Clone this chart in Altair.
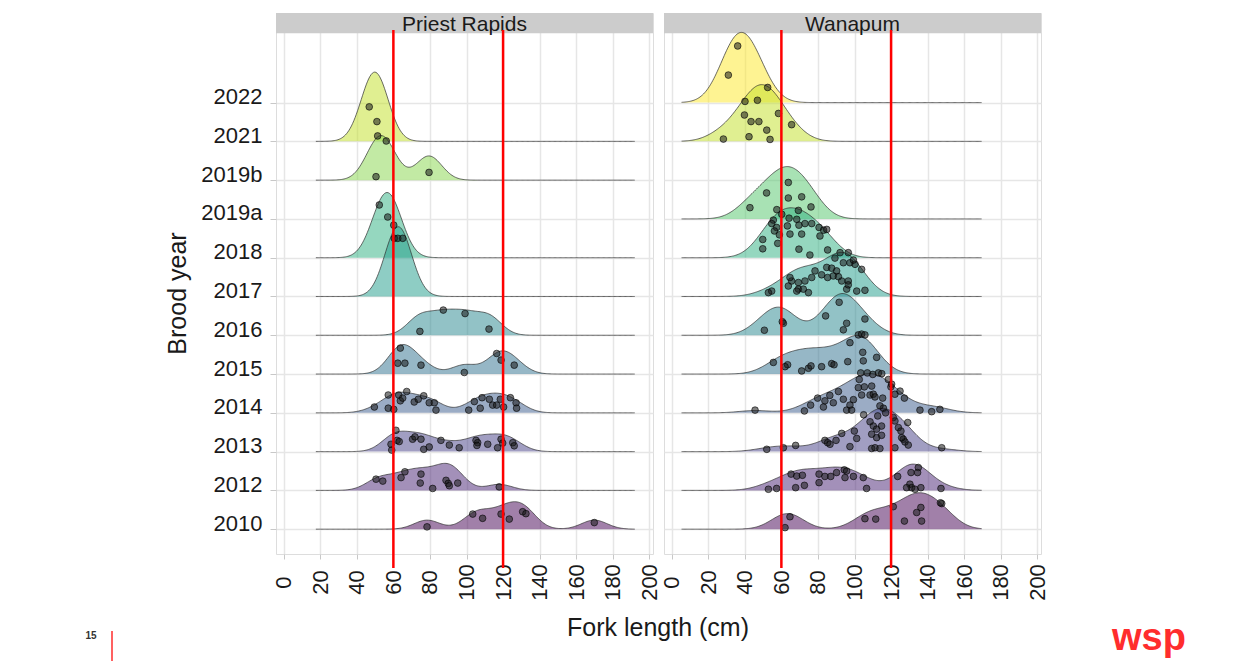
import altair as alt
import pandas as pd

# ---------------- data ----------------
YEARS = ["2010", "2012", "2013", "2014", "2015", "2016", "2017", "2018",
         "2019a", "2019b", "2021", "2022"]
VIRIDIS = ["#440154", "#482173", "#433E85", "#38598C", "#2D708E", "#25858E",
           "#1E9B8A", "#2BB07F", "#51C56A", "#85D54A", "#C2DF23", "#FDE725"]
PANELS = ["Priest Rapids", "Wanapum"]
X_TICKS = list(range(0, 201, 20))
REF_LINES = [60, 120]

# fork lengths (cm) per brood year, Priest Rapids
PR_LENGTH = {
    "2021": [46.8, 51.0, 51.4],
    "2019b": [50.5, 56.1, 79.5],
    "2018": [52.3, 56.9, 60.2],
    "2017": [60.5, 62.4, 65.1],
    "2016": [87.3, 99.2, 74.5, 112.3],
    "2015": [63.8, 62.4, 66.3, 75.1, 98.8, 116.5, 118.9, 126.1],
    "2014": [57.2, 62.9, 67.3, 63.8, 65.1, 49.6, 57.2, 60.2, 71.4, 73.6, 76.6, 79.6, 82.4,
             83.3, 101.2, 104.3, 107.5, 108.5, 112.5, 114.3, 116.5, 118.5, 120.3, 124.0,
             127.1, 127.4],
    "2013": [61.4, 62.0, 58.7, 59.1, 63.2, 70.5, 71.8, 75.1, 76.6, 79.6, 86.0, 90.6, 96.0,
             105.2, 106.1, 105.7, 111.6, 117.0, 118.9, 119.8, 125.3, 126.1],
    "2012": [50.5, 54.2, 64.2, 66.3, 75.1, 74.7, 81.5, 88.8, 90.0, 90.6, 95.2, 117.9],
    "2010": [78.4, 103.4, 108.8, 118.9, 123.4, 130.7, 132.5, 169.9],
}
# vertical jitter of each point above its ridge baseline (in rows)
PR_JITTER = {
    "2021": [0.89, 0.51, 0.14],
    "2019b": [0.09, 1.01, 0.20],
    "2018": [1.36, 1.05, 0.84],
    "2017": [1.50, 1.50, 1.50],
    "2016": [0.65, 0.56, 0.10, 0.16],
    "2015": [0.67, 0.28, 0.28, 0.23, 0.04, 0.53, 0.36, 0.23],
    "2014": [0.46, 0.46, 0.55, 0.31, 0.38, 0.15, 0.12, 0.09, 0.28, 0.35, 0.44, 0.26, 0.26,
             0.07, 0.07, 0.29, 0.12, 0.39, 0.35, 0.20, 0.20, 0.35, 0.15, 0.39, 0.26, 0.12],
    "2013": [0.55, 0.29, 0.19, 0.04, 0.26, 0.32, 0.38, 0.32, 0.06, 0.12, 0.29, 0.17, 0.10,
             0.29, 0.23, 0.16, 0.19, 0.10, 0.32, 0.22, 0.23, 0.15],
    "2012": [0.29, 0.24, 0.33, 0.48, 0.42, 0.19, 0.05, 0.26, 0.18, 0.12, 0.19, 0.09],
    "2010": [0.06, 0.39, 0.28, 0.39, 0.26, 0.45, 0.40, 0.17],
}

# fork lengths (cm) per brood year, Wanapum
WAN_LENGTH = {
    "2022": [31.0, 36.1, 40.1, 46.9],
    "2021": [52.5, 58.4, 39.8, 43.4, 47.7, 65.6, 52.0, 28.3, 42.3, 53.8],
    "2019a": [63.8, 51.9, 63.8, 71.1, 42.8, 76.2, 57.5],
    "2018": [69.3, 55.6, 54.7, 57.4, 56.2, 58.9, 58.0, 49.8, 49.8, 64.2, 63.3, 64.7, 68.4,
             69.6, 72.9, 76.6, 80.6, 83.1, 84.8, 81.1, 71.1, 69.6, 75.6, 85.3, 60.2],
    "2017": [92.1, 96.6, 89.3, 93.9, 97.5, 100.3, 103.9, 84.8, 87.5, 90.2, 78.4, 82.0, 85.3,
             88.4, 91.2, 93.0, 96.6, 76.6, 72.9, 69.3, 65.6, 64.7, 69.3, 72.0, 74.8, 63.8,
             54.7, 52.9, 95.7, 96.6, 101.2, 105.7, 99.4, 68.4],
    "2016": [50.7, 60.5, 61.1, 84.2, 91.6, 95.7, 93.9, 105.7],
    "2015": [55.6, 63.4, 62.0, 71.1, 74.8, 76.2, 82.0, 87.5, 88.8, 96.3, 104.5, 104.8, 97.5,
             102.1, 103.9, 105.7, 112.1],
    "2014": [45.6, 72.6, 79.8, 83.8, 83.0, 88.4, 93.9, 95.7, 98.4, 99.4, 102.1, 103.9, 105.4,
             108.5, 109.4, 110.3, 111.2, 115.4, 115.8, 119.9, 120.3, 122.1, 124.9, 127.3,
             103.4, 107.0, 110.0, 113.1, 114.9, 118.5, 102.6, 91.2, 135.8, 142.2, 146.7,
             76.0, 86.5, 97.5],
    "2013": [52.0, 61.1, 67.8, 83.8, 85.3, 86.6, 89.9, 93.0, 97.5, 101.2, 99.9, 108.5, 110.3,
             112.1, 114.8, 109.4, 112.1, 114.8, 109.4, 111.2, 113.9, 121.2, 122.1, 124.0,
             125.4, 126.7, 127.6, 122.1, 147.7, 113.9, 112.7, 117.0, 105.0, 129.1, 125.8,
             129.4],
    "2012": [52.9, 57.4, 65.3, 68.4, 71.5, 67.8, 72.6, 80.6, 80.6, 87.0, 90.2, 94.4, 95.7,
             94.8, 99.4, 104.8, 106.6, 83.8, 123.6, 130.9, 134.9, 130.3, 131.2, 128.5,
             136.3, 147.3, 134.5, 133.1],
    "2010": [64.7, 62.0, 105.7, 111.6, 121.2, 127.3, 134.0, 136.3, 136.7, 147.7, 147.0],
}
WAN_JITTER = {
    "2022": [0.71, 1.46, 0.03, 0.06],
    "2021": [1.39, 0.72, 0.68, 0.51, 0.51, 0.43, 0.29, 0.06, 0.12, 0.05],
    "2019a": [0.94, 0.67, 0.54, 0.57, 0.29, 0.31, 0.24],
    "2018": [1.22, 0.97, 0.88, 0.78, 0.69, 0.59, 0.37, 0.47, 0.23, 1.02, 0.82, 0.61, 0.99,
             0.84, 0.88, 0.88, 0.78, 0.71, 0.73, 0.56, 0.61, 0.22, 0.07, 0.20, 1.12],
    "2017": [1.13, 1.13, 0.99, 0.87, 0.87, 0.83, 0.70, 0.75, 0.73, 0.66, 0.66, 0.56, 0.49,
             0.53, 0.51, 0.40, 0.40, 0.49, 0.40, 0.36, 0.40, 0.49, 0.19, 0.19, 0.10, 0.27,
             0.14, 0.10, 0.19, 0.30, 0.14, 0.16, 0.94, 0.14],
    "2016": [0.13, 0.35, 0.31, 0.50, 0.85, 0.31, 0.14, 0.42],
    "2015": [0.30, 0.24, 0.19, 0.08, 0.15, 0.21, 0.19, 0.27, 0.24, 0.32, 0.56, 0.34, 0.81,
             1.01, 1.03, 1.01, 0.43],
    "2014": [0.07, 0.05, 0.38, 0.31, 0.15, 0.26, 0.35, 0.07, 0.07, 0.34, 0.65, 0.46, 0.67,
             0.46, 0.69, 0.48, 0.41, 0.38, 0.12, 0.67, 0.74, 0.48, 0.56, 0.38, 1.03, 1.03,
             0.99, 1.03, 1.01, 0.86, 0.86, 0.55, 0.07, 0.03, 0.09, 0.20, 0.45, 0.20],
    "2013": [0.06, 0.10, 0.16, 0.29, 0.23, 0.19, 0.29, 0.47, 0.13, 0.34, 0.53, 0.77, 0.66,
             0.58, 0.66, 0.45, 0.36, 0.42, 0.08, 0.10, 0.08, 0.88, 0.79, 0.62, 0.53, 0.32,
             0.25, 0.10, 0.10, 1.18, 0.92, 1.00, 0.95, 0.75, 0.36, 0.17],
    "2012": [0.03, 0.05, 0.42, 0.37, 0.39, 0.07, 0.13, 0.42, 0.20, 0.36, 0.46, 0.53, 0.50,
             0.33, 0.36, 0.33, 0.05, 0.36, 0.36, 0.46, 0.59, 0.16, 0.07, 0.07, 0.07, 0.05,
             0.46, 0.03],
    "2010": [0.32, 0.04, 0.27, 0.26, 0.58, 0.21, 0.43, 0.56, 0.21, 0.66, 0.68],
}

EXTENT = {"Priest Rapids": [17.6, 192.0], "Wanapum": [5.4, 169.5]}
RIDGE_SCALE = {"Priest Rapids": 1.80, "Wanapum": 1.81}
BANDWIDTH = {"Priest Rapids": 7.0, "Wanapum": 8.5}

# ---------------- layout constants ----------------
FONT = "Liberation Sans"
PW, PH = 377, 541
STRIP_H = 20.3
XS = alt.Scale(domain=[-4.2, 202], nice=False, zero=False)
YS = alt.Scale(domain=[-0.64, 13.31], nice=False, zero=False)

XAXIS = alt.Axis(values=X_TICKS, title=None, labelAngle=270, labelAlign="center",
                 labelBaseline="middle", labelPadding=23, tickSize=5, tickColor="#c8c8c8",
                 labelFontSize=22, labelColor="#1a1a1a", labelFont=FONT, domain=False,
                 grid=True, gridColor="#e6e6e6", gridWidth=1.5, labelFlush=False,
                 labelOverlap=False)
label_expr = "[" + ",".join("'%s'" % y for y in YEARS) + "][datum.value]"
YAXIS_LEFT = alt.Axis(values=list(range(len(YEARS))), labelExpr=label_expr, title="Brood year",
                      titleFontSize=25, titleFont=FONT, titleFontWeight="normal",
                      titleColor="#1a1a1a", titlePadding=10, titleY=280,
                      labelFontSize=22, labelFont=FONT, labelColor="#1a1a1a",
                      labelPadding=8, labelOffset=-6, tickSize=6,
                      tickColor="#c8c8c8", domain=False, grid=True, gridColor="#e6e6e6",
                      gridWidth=1.5)
YAXIS_RIGHT = alt.Axis(values=list(range(len(YEARS))), labels=False, ticks=False, title=None,
                       domain=False, grid=True, gridColor="#e6e6e6", gridWidth=1.5)


def one(**kw):
    return pd.DataFrame({k: [v] for k, v in kw.items()})


def panel(name, lengths, jitters, yaxis, extras):
    recs = []
    for yr, vals in lengths.items():
        for L, J in zip(vals, jitters[yr]):
            recs.append({"row": YEARS.index(yr), "length": L, "jit": J})
    df = pd.DataFrame(recs)
    X = lambda f: alt.X(f, scale=XS, axis=XAXIS)
    Y = lambda f: alt.Y(f, scale=YS, axis=yaxis)

    layers = []
    strip = alt.Chart(one(label=name)).mark_rect(color="#cccccc").encode(
        x=alt.value(0), x2=alt.value(PW), y=alt.value(0), y2=alt.value(STRIP_H))
    strip_txt = alt.Chart(one(label=name)).mark_text(
        font=FONT, fontSize=21, color="#1a1a1a", baseline="alphabetic").encode(
        x=alt.value(PW / 2), y=alt.value(18), text="label:N")
    layers += [strip, strip_txt]

    dens = (alt.Chart(df)
            .transform_density("length", as_=["length", "density"], groupby=["row"],
                               bandwidth=BANDWIDTH[name], extent=EXTENT[name], steps=260)
            .transform_joinaggregate(maxd="max(density)")
            .transform_calculate(top="datum.row + datum.density / datum.maxd * %f"
                                 % RIDGE_SCALE[name]))
    for r in sorted(df["row"].unique(), reverse=True):
        sub = dens.transform_filter(alt.datum.row == int(r))
        layers.append(sub.mark_area(fill=VIRIDIS[r], fillOpacity=0.5, strokeWidth=0).encode(
            x=X("length:Q"), y=Y("top:Q"), y2="row:Q"))
        layers.append(sub.mark_line(color="#2e2e2e", strokeWidth=0.7).encode(
            x=X("length:Q"), y=Y("top:Q")))

    pts = alt.Chart(df).transform_calculate(py="datum.row + datum.jit").mark_circle(
        size=45, fill="#1a1a1a", fillOpacity=0.55, stroke="#000000", strokeWidth=0.7,
        strokeOpacity=0.85, opacity=1).encode(x=X("length:Q"), y=Y("py:Q"))
    rules = alt.Chart(pd.DataFrame({"v": REF_LINES})).mark_rule(
        color="#ff0000", strokeWidth=2.5).encode(
        x=X("v:Q"), y=alt.value(17), y2=alt.value(555))
    layers += [pts, rules] + extras
    return alt.layer(*layers).properties(width=PW, height=PH)


left_extras = [
    alt.Chart(one(t="Fork length (cm)")).mark_text(
        font=FONT, fontSize=25, color="#1a1a1a", baseline="middle").encode(
        x=alt.value(382), y=alt.value(615), text="t:N"),
    alt.Chart(one(t="15")).mark_text(
        font=FONT, fontSize=10, fontWeight="bold", color="#333333", baseline="middle").encode(
        x=alt.value(-185), y=alt.value(623), text="t:N"),
    alt.Chart(one(t="line")).mark_rule(color="#ff2d2d", strokeWidth=1.5).encode(
        x=alt.value(-164), y=alt.value(618), y2=alt.value(648)),
]
right_extras = [
    alt.Chart(one(t="wsp")).mark_text(
        font=FONT, fontSize=38, fontWeight="bold", color="#ff2d2d", baseline="middle").encode(
        x=alt.value(485), y=alt.value(626), text="t:N"),
]

left = panel("Priest Rapids", PR_LENGTH, PR_JITTER, YAXIS_LEFT, left_extras)
right = panel("Wanapum", WAN_LENGTH, WAN_JITTER, YAXIS_RIGHT, right_extras)

chart = alt.hconcat(left, right, spacing=11, bounds="flush",
                    padding={"left": 84, "top": 12, "right": 5, "bottom": 2}
                    ).configure_view(stroke=None).configure(font=FONT, background="white")

chart.save("out.html", embed_options={"renderer": "svg", "actions": False})
